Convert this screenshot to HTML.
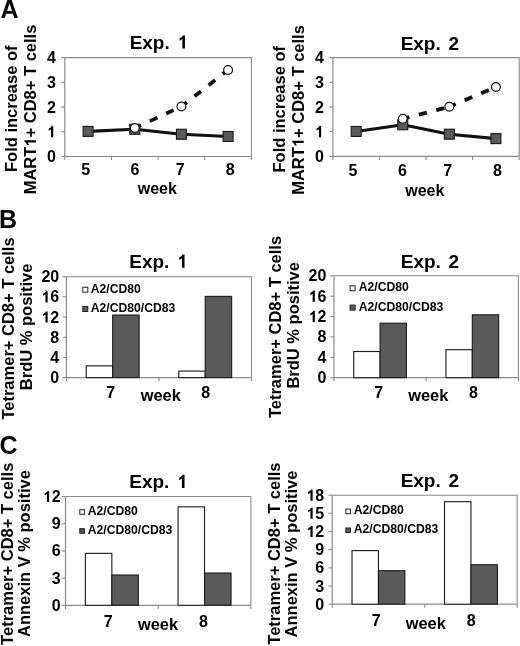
<!DOCTYPE html>
<html><head><meta charset="utf-8"><style>
html,body{margin:0;padding:0;background:#fff;}
svg{display:block;will-change:transform;filter:blur(0.3px);}
text{font-family:"Liberation Sans", sans-serif;font-weight:bold;fill:#000;}
</style></head><body>
<svg width="520" height="646" viewBox="0 0 520 646">
<rect width="520" height="646" fill="#fff"/>
<text x="0.6" y="17.9" font-size="25">A</text>
<text x="-0.9" y="227.5" font-size="25">B</text>
<text x="-0.4" y="454.3" font-size="25">C</text>
<path d="M64.80,57.60H251.40V156.50" fill="none" stroke="#8a8a8a" stroke-width="1.1"/>
<path d="M64.80,57.60V156.50H251.40" fill="none" stroke="#8a8a8a" stroke-width="1.2"/>
<path d="M61.00,156.50H64.80" stroke="#8a8a8a" stroke-width="1.1"/>
<path d="M61.00,131.78H64.80" stroke="#8a8a8a" stroke-width="1.1"/>
<path d="M61.00,107.05H64.80" stroke="#8a8a8a" stroke-width="1.1"/>
<path d="M61.00,82.32H64.80" stroke="#8a8a8a" stroke-width="1.1"/>
<path d="M61.00,57.60H64.80" stroke="#8a8a8a" stroke-width="1.1"/>
<path d="M64.80,156.50V160.10" stroke="#8a8a8a" stroke-width="1.1"/>
<path d="M111.45,156.50V160.10" stroke="#8a8a8a" stroke-width="1.1"/>
<path d="M158.10,156.50V160.10" stroke="#8a8a8a" stroke-width="1.1"/>
<path d="M204.75,156.50V160.10" stroke="#8a8a8a" stroke-width="1.1"/>
<path d="M251.40,156.50V160.10" stroke="#8a8a8a" stroke-width="1.1"/>
<text x="55.90" y="162.00" font-size="16" text-anchor="end">0</text>
<text x="55.90" y="137.28" font-size="16" text-anchor="end">1</text>
<text x="55.90" y="112.55" font-size="16" text-anchor="end">2</text>
<text x="55.90" y="87.82" font-size="16" text-anchor="end">3</text>
<text x="55.90" y="63.10" font-size="16" text-anchor="end">4</text>
<text x="85.60" y="175.00" font-size="16" text-anchor="middle">5</text>
<text x="134.90" y="175.00" font-size="16" text-anchor="middle">6</text>
<text x="180.30" y="175.00" font-size="16" text-anchor="middle">7</text>
<text x="230.10" y="175.00" font-size="16" text-anchor="middle">8</text>
<text x="157.30" y="194.20" font-size="16" text-anchor="middle">week</text>
<text x="129.63" y="48.60" font-size="19" word-spacing="2.5">Exp. 1</text>
<polyline points="88.12,131.40 134.78,129.30 181.43,134.25 228.08,136.47" fill="none" stroke="#111" stroke-width="3.1" stroke-linejoin="round"/>
<line x1="134.78" y1="128.07" x2="181.43" y2="106.56" stroke="#111" stroke-width="3.8" stroke-dasharray="8.3 9.7" stroke-dashoffset="1.4"/>
<line x1="181.43" y1="106.56" x2="228.08" y2="69.96" stroke="#111" stroke-width="3.8" stroke-dasharray="8.3 9.7" stroke-dashoffset="1.4"/>
<rect x="83.12" y="126.40" width="10" height="10" fill="#5a5a5a" stroke="#1a1a1a" stroke-width="1.1"/>
<rect x="129.78" y="124.30" width="10" height="10" fill="#5a5a5a" stroke="#1a1a1a" stroke-width="1.1"/>
<rect x="176.43" y="129.25" width="10" height="10" fill="#5a5a5a" stroke="#1a1a1a" stroke-width="1.1"/>
<rect x="223.08" y="131.47" width="10" height="10" fill="#5a5a5a" stroke="#1a1a1a" stroke-width="1.1"/>
<circle cx="134.78" cy="128.07" r="4.4" fill="#fff" stroke="#111" stroke-width="1.2"/>
<circle cx="181.43" cy="106.56" r="4.4" fill="#fff" stroke="#111" stroke-width="1.2"/>
<circle cx="228.08" cy="69.96" r="4.4" fill="#fff" stroke="#111" stroke-width="1.2"/>
<text x="0" y="0" font-size="16.5" text-anchor="middle" transform="translate(16.70,108.75) rotate(-90)">Fold increase of</text>
<text x="0" y="0" font-size="16.5" text-anchor="middle" transform="translate(35.90,109.50) rotate(-90)">MART1+ CD8+ T cells</text>
<path d="M332.90,57.60H519.20V156.40" fill="none" stroke="#8a8a8a" stroke-width="1.1"/>
<path d="M332.90,57.60V156.40H519.20" fill="none" stroke="#8a8a8a" stroke-width="1.2"/>
<path d="M329.10,156.40H332.90" stroke="#8a8a8a" stroke-width="1.1"/>
<path d="M329.10,131.70H332.90" stroke="#8a8a8a" stroke-width="1.1"/>
<path d="M329.10,107.00H332.90" stroke="#8a8a8a" stroke-width="1.1"/>
<path d="M329.10,82.30H332.90" stroke="#8a8a8a" stroke-width="1.1"/>
<path d="M329.10,57.60H332.90" stroke="#8a8a8a" stroke-width="1.1"/>
<path d="M332.90,156.40V160.00" stroke="#8a8a8a" stroke-width="1.1"/>
<path d="M379.48,156.40V160.00" stroke="#8a8a8a" stroke-width="1.1"/>
<path d="M426.05,156.40V160.00" stroke="#8a8a8a" stroke-width="1.1"/>
<path d="M472.62,156.40V160.00" stroke="#8a8a8a" stroke-width="1.1"/>
<path d="M519.20,156.40V160.00" stroke="#8a8a8a" stroke-width="1.1"/>
<text x="323.80" y="161.90" font-size="16" text-anchor="end">0</text>
<text x="323.80" y="137.20" font-size="16" text-anchor="end">1</text>
<text x="323.80" y="112.50" font-size="16" text-anchor="end">2</text>
<text x="323.80" y="87.80" font-size="16" text-anchor="end">3</text>
<text x="323.80" y="63.10" font-size="16" text-anchor="end">4</text>
<text x="353.00" y="175.50" font-size="16" text-anchor="middle">5</text>
<text x="402.50" y="175.50" font-size="16" text-anchor="middle">6</text>
<text x="447.80" y="175.50" font-size="16" text-anchor="middle">7</text>
<text x="497.50" y="175.50" font-size="16" text-anchor="middle">8</text>
<text x="424.80" y="195.50" font-size="16" text-anchor="middle">week</text>
<text x="400.63" y="50.30" font-size="19" word-spacing="2.5">Exp. 2</text>
<polyline points="356.19,131.45 402.76,124.78 449.34,134.17 495.91,138.62" fill="none" stroke="#111" stroke-width="3.1" stroke-linejoin="round"/>
<line x1="402.76" y1="118.86" x2="449.34" y2="106.75" stroke="#111" stroke-width="3.8" stroke-dasharray="8.3 9.7" stroke-dashoffset="1.4"/>
<line x1="449.34" y1="106.75" x2="495.91" y2="86.99" stroke="#111" stroke-width="3.8" stroke-dasharray="8.3 9.7" stroke-dashoffset="1.4"/>
<rect x="351.19" y="126.45" width="10" height="10" fill="#5a5a5a" stroke="#1a1a1a" stroke-width="1.1"/>
<rect x="397.76" y="119.78" width="10" height="10" fill="#5a5a5a" stroke="#1a1a1a" stroke-width="1.1"/>
<rect x="444.34" y="129.17" width="10" height="10" fill="#5a5a5a" stroke="#1a1a1a" stroke-width="1.1"/>
<rect x="490.91" y="133.62" width="10" height="10" fill="#5a5a5a" stroke="#1a1a1a" stroke-width="1.1"/>
<circle cx="402.76" cy="118.86" r="4.4" fill="#fff" stroke="#111" stroke-width="1.2"/>
<circle cx="449.34" cy="106.75" r="4.4" fill="#fff" stroke="#111" stroke-width="1.2"/>
<circle cx="495.91" cy="86.99" r="4.4" fill="#fff" stroke="#111" stroke-width="1.2"/>
<text x="0" y="0" font-size="16.5" text-anchor="middle" transform="translate(285.00,109.25) rotate(-90)">Fold increase of</text>
<text x="0" y="0" font-size="16.5" text-anchor="middle" transform="translate(303.70,110.00) rotate(-90)">MART1+ CD8+ T cells</text>
<path d="M66.40,276.70H251.50V377.60" fill="none" stroke="#8a8a8a" stroke-width="1.1"/>
<path d="M66.40,276.70V377.60H251.50" fill="none" stroke="#8a8a8a" stroke-width="1.2"/>
<path d="M62.60,377.60H66.40" stroke="#8a8a8a" stroke-width="1.1"/>
<path d="M62.60,357.42H66.40" stroke="#8a8a8a" stroke-width="1.1"/>
<path d="M62.60,337.24H66.40" stroke="#8a8a8a" stroke-width="1.1"/>
<path d="M62.60,317.06H66.40" stroke="#8a8a8a" stroke-width="1.1"/>
<path d="M62.60,296.88H66.40" stroke="#8a8a8a" stroke-width="1.1"/>
<path d="M62.60,276.70H66.40" stroke="#8a8a8a" stroke-width="1.1"/>
<path d="M66.40,377.60V381.20" stroke="#8a8a8a" stroke-width="1.1"/>
<path d="M158.95,377.60V381.20" stroke="#8a8a8a" stroke-width="1.1"/>
<path d="M251.50,377.60V381.20" stroke="#8a8a8a" stroke-width="1.1"/>
<text x="59.20" y="383.10" font-size="16" text-anchor="end">0</text>
<text x="59.20" y="362.92" font-size="16" text-anchor="end">4</text>
<text x="59.20" y="342.74" font-size="16" text-anchor="end">8</text>
<text x="59.20" y="322.56" font-size="16" text-anchor="end">12</text>
<text x="59.20" y="302.38" font-size="16" text-anchor="end">16</text>
<text x="59.20" y="282.20" font-size="16" text-anchor="end">20</text>
<rect x="86.23" y="365.85" width="26.44" height="11.75" fill="#fff" stroke="#1a1a1a" stroke-width="1.1"/>
<rect x="112.68" y="315.04" width="26.44" height="62.56" fill="#5a5a5a" stroke="#1a1a1a" stroke-width="1.1"/>
<rect x="178.78" y="371.09" width="26.44" height="6.51" fill="#fff" stroke="#1a1a1a" stroke-width="1.1"/>
<rect x="205.22" y="296.38" width="26.44" height="81.22" fill="#5a5a5a" stroke="#1a1a1a" stroke-width="1.1"/>
<text x="110.70" y="398.20" font-size="16" text-anchor="middle">7</text>
<text x="205.70" y="398.20" font-size="16" text-anchor="middle">8</text>
<text x="160.80" y="401.40" font-size="16.4" text-anchor="middle">week</text>
<text x="129.23" y="267.70" font-size="19" word-spacing="2.5">Exp. 1</text>
<rect x="82.80" y="287.20" width="5.00" height="5.00" fill="#fff" stroke="#222" stroke-width="1"/>
<text x="90.70" y="292.70" font-size="12.2" text-anchor="start">A2/CD80</text>
<rect x="82.80" y="306.50" width="5.00" height="5.00" fill="#5a5a5a" stroke="#222" stroke-width="1"/>
<text x="90.70" y="312.00" font-size="12.2" text-anchor="start">A2/CD80/CD83</text>
<text x="0" y="0" font-size="16.5" text-anchor="middle" transform="translate(14.20,328.50) rotate(-90)">Tetramer+ CD8+ T cells</text>
<text x="0" y="0" font-size="16.5" text-anchor="middle" transform="translate(31.80,326.90) rotate(-90)">BrdU % positive</text>
<path d="M334.00,275.80H518.40V377.70" fill="none" stroke="#8a8a8a" stroke-width="1.1"/>
<path d="M334.00,275.80V377.70H518.40" fill="none" stroke="#8a8a8a" stroke-width="1.2"/>
<path d="M330.20,377.70H334.00" stroke="#8a8a8a" stroke-width="1.1"/>
<path d="M330.20,357.32H334.00" stroke="#8a8a8a" stroke-width="1.1"/>
<path d="M330.20,336.94H334.00" stroke="#8a8a8a" stroke-width="1.1"/>
<path d="M330.20,316.56H334.00" stroke="#8a8a8a" stroke-width="1.1"/>
<path d="M330.20,296.18H334.00" stroke="#8a8a8a" stroke-width="1.1"/>
<path d="M330.20,275.80H334.00" stroke="#8a8a8a" stroke-width="1.1"/>
<path d="M334.00,377.70V381.30" stroke="#8a8a8a" stroke-width="1.1"/>
<path d="M426.20,377.70V381.30" stroke="#8a8a8a" stroke-width="1.1"/>
<path d="M518.40,377.70V381.30" stroke="#8a8a8a" stroke-width="1.1"/>
<text x="326.40" y="383.20" font-size="16" text-anchor="end">0</text>
<text x="326.40" y="362.82" font-size="16" text-anchor="end">4</text>
<text x="326.40" y="342.44" font-size="16" text-anchor="end">8</text>
<text x="326.40" y="322.06" font-size="16" text-anchor="end">12</text>
<text x="326.40" y="301.68" font-size="16" text-anchor="end">16</text>
<text x="326.40" y="281.30" font-size="16" text-anchor="end">20</text>
<rect x="353.76" y="351.51" width="26.34" height="26.19" fill="#fff" stroke="#1a1a1a" stroke-width="1.1"/>
<rect x="380.10" y="323.18" width="26.34" height="54.52" fill="#5a5a5a" stroke="#1a1a1a" stroke-width="1.1"/>
<rect x="445.96" y="349.68" width="26.34" height="28.02" fill="#fff" stroke="#1a1a1a" stroke-width="1.1"/>
<rect x="472.30" y="314.78" width="26.34" height="62.92" fill="#5a5a5a" stroke="#1a1a1a" stroke-width="1.1"/>
<text x="378.60" y="398.20" font-size="16" text-anchor="middle">7</text>
<text x="473.50" y="398.20" font-size="16" text-anchor="middle">8</text>
<text x="428.30" y="401.40" font-size="16.4" text-anchor="middle">week</text>
<text x="400.73" y="267.70" font-size="19" word-spacing="2.5">Exp. 2</text>
<rect x="350.10" y="285.80" width="5.00" height="5.00" fill="#fff" stroke="#222" stroke-width="1"/>
<text x="358.70" y="291.30" font-size="12.2" text-anchor="start">A2/CD80</text>
<rect x="350.10" y="305.10" width="5.00" height="5.00" fill="#5a5a5a" stroke="#222" stroke-width="1"/>
<text x="358.70" y="310.60" font-size="12.2" text-anchor="start">A2/CD80/CD83</text>
<text x="0" y="0" font-size="16.5" text-anchor="middle" transform="translate(280.80,327.00) rotate(-90)">Tetramer+ CD8+ T cells</text>
<text x="0" y="0" font-size="16.5" text-anchor="middle" transform="translate(298.70,325.30) rotate(-90)">BrdU % positive</text>
<path d="M65.50,496.50H250.90V605.30" fill="none" stroke="#8a8a8a" stroke-width="1.1"/>
<path d="M65.50,496.50V605.30H250.90" fill="none" stroke="#8a8a8a" stroke-width="1.2"/>
<path d="M61.70,605.30H65.50" stroke="#8a8a8a" stroke-width="1.1"/>
<path d="M61.70,578.10H65.50" stroke="#8a8a8a" stroke-width="1.1"/>
<path d="M61.70,550.90H65.50" stroke="#8a8a8a" stroke-width="1.1"/>
<path d="M61.70,523.70H65.50" stroke="#8a8a8a" stroke-width="1.1"/>
<path d="M61.70,496.50H65.50" stroke="#8a8a8a" stroke-width="1.1"/>
<path d="M65.50,605.30V608.90" stroke="#8a8a8a" stroke-width="1.1"/>
<path d="M158.20,605.30V608.90" stroke="#8a8a8a" stroke-width="1.1"/>
<path d="M250.90,605.30V608.90" stroke="#8a8a8a" stroke-width="1.1"/>
<text x="60.70" y="610.80" font-size="16" text-anchor="end">0</text>
<text x="60.70" y="583.60" font-size="16" text-anchor="end">3</text>
<text x="60.70" y="556.40" font-size="16" text-anchor="end">6</text>
<text x="60.70" y="529.20" font-size="16" text-anchor="end">9</text>
<text x="60.70" y="502.00" font-size="16" text-anchor="end">12</text>
<rect x="85.36" y="553.35" width="26.49" height="51.95" fill="#fff" stroke="#1a1a1a" stroke-width="1.1"/>
<rect x="111.85" y="575.02" width="26.49" height="30.28" fill="#5a5a5a" stroke="#1a1a1a" stroke-width="1.1"/>
<rect x="178.06" y="506.84" width="26.49" height="98.46" fill="#fff" stroke="#1a1a1a" stroke-width="1.1"/>
<rect x="204.55" y="573.02" width="26.49" height="32.28" fill="#5a5a5a" stroke="#1a1a1a" stroke-width="1.1"/>
<text x="108.30" y="626.50" font-size="16" text-anchor="middle">7</text>
<text x="203.40" y="626.50" font-size="16" text-anchor="middle">8</text>
<text x="158.00" y="629.50" font-size="16.4" text-anchor="middle">week</text>
<text x="129.23" y="488.00" font-size="19" word-spacing="2.5">Exp. 1</text>
<rect x="79.80" y="509.70" width="4.60" height="4.60" fill="#fff" stroke="#222" stroke-width="1"/>
<text x="87.70" y="514.80" font-size="12.2" text-anchor="start">A2/CD80</text>
<rect x="79.80" y="528.70" width="4.60" height="4.60" fill="#5a5a5a" stroke="#222" stroke-width="1"/>
<text x="87.70" y="533.80" font-size="12.2" text-anchor="start">A2/CD80/CD83</text>
<text x="0" y="0" font-size="16.5" text-anchor="middle" transform="translate(12.80,553.80) rotate(-90)">Tetramer+ CD8+ T cells</text>
<text x="0" y="0" font-size="16.5" text-anchor="middle" transform="translate(29.70,553.60) rotate(-90)">Annexin V % positive</text>
<path d="M332.20,495.20H517.20V604.20" fill="none" stroke="#8a8a8a" stroke-width="1.1"/>
<path d="M332.20,495.20V604.20H517.20" fill="none" stroke="#8a8a8a" stroke-width="1.2"/>
<path d="M328.40,604.20H332.20" stroke="#8a8a8a" stroke-width="1.1"/>
<path d="M328.40,586.03H332.20" stroke="#8a8a8a" stroke-width="1.1"/>
<path d="M328.40,567.87H332.20" stroke="#8a8a8a" stroke-width="1.1"/>
<path d="M328.40,549.70H332.20" stroke="#8a8a8a" stroke-width="1.1"/>
<path d="M328.40,531.53H332.20" stroke="#8a8a8a" stroke-width="1.1"/>
<path d="M328.40,513.37H332.20" stroke="#8a8a8a" stroke-width="1.1"/>
<path d="M328.40,495.20H332.20" stroke="#8a8a8a" stroke-width="1.1"/>
<path d="M332.20,604.20V607.80" stroke="#8a8a8a" stroke-width="1.1"/>
<path d="M424.70,604.20V607.80" stroke="#8a8a8a" stroke-width="1.1"/>
<path d="M517.20,604.20V607.80" stroke="#8a8a8a" stroke-width="1.1"/>
<text x="324.20" y="609.70" font-size="16" text-anchor="end">0</text>
<text x="324.20" y="591.53" font-size="16" text-anchor="end">3</text>
<text x="324.20" y="573.37" font-size="16" text-anchor="end">6</text>
<text x="324.20" y="555.20" font-size="16" text-anchor="end">9</text>
<text x="324.20" y="537.03" font-size="16" text-anchor="end">12</text>
<text x="324.20" y="518.87" font-size="16" text-anchor="end">15</text>
<text x="324.20" y="500.70" font-size="16" text-anchor="end">18</text>
<rect x="352.02" y="550.61" width="26.43" height="53.59" fill="#fff" stroke="#1a1a1a" stroke-width="1.1"/>
<rect x="378.45" y="570.71" width="26.43" height="33.49" fill="#5a5a5a" stroke="#1a1a1a" stroke-width="1.1"/>
<rect x="444.52" y="501.68" width="26.43" height="102.52" fill="#fff" stroke="#1a1a1a" stroke-width="1.1"/>
<rect x="470.95" y="564.72" width="26.43" height="39.48" fill="#5a5a5a" stroke="#1a1a1a" stroke-width="1.1"/>
<text x="376.30" y="625.80" font-size="16" text-anchor="middle">7</text>
<text x="471.20" y="625.80" font-size="16" text-anchor="middle">8</text>
<text x="425.80" y="628.80" font-size="16.4" text-anchor="middle">week</text>
<text x="400.63" y="486.90" font-size="19" word-spacing="2.5">Exp. 2</text>
<rect x="345.80" y="509.10" width="4.60" height="4.60" fill="#fff" stroke="#222" stroke-width="1"/>
<text x="353.70" y="514.20" font-size="12.2" text-anchor="start">A2/CD80</text>
<rect x="345.80" y="528.00" width="4.60" height="4.60" fill="#5a5a5a" stroke="#222" stroke-width="1"/>
<text x="353.70" y="533.10" font-size="12.2" text-anchor="start">A2/CD80/CD83</text>
<text x="0" y="0" font-size="16.5" text-anchor="middle" transform="translate(279.60,553.60) rotate(-90)">Tetramer+ CD8+ T cells</text>
<text x="0" y="0" font-size="16.5" text-anchor="middle" transform="translate(297.20,554.00) rotate(-90)">Annexin V % positive</text>
<g><rect x="47.20" y="125.27" width="9.05" height="12.81" fill="#fff"/><path transform="translate(46.99,137.28) scale(0.007812,-0.007812)" d="M800 0H520V1030C430 948 320 886 215 850V1098C370 1150 520 1270 600 1420H800Z" fill="#000"/></g>
<g><rect x="177.92" y="34.53" width="10.44" height="14.87" fill="#fff"/><path transform="translate(177.52,48.60) scale(0.009277,-0.009277)" d="M800 0H520V1030C430 948 320 886 215 850V1098C370 1150 520 1270 600 1420H800Z" fill="#000"/></g>
<g transform="translate(35.90,109.50) rotate(-90)"><rect x="-36.94" y="-12.35" width="9.28" height="13.15" fill="#fff"/><path transform="translate(-37.18,0.00) scale(0.008057,-0.008057)" d="M800 0H520V1030C430 948 320 886 215 850V1098C370 1150 520 1270 600 1420H800Z" fill="#000"/></g>
<g><rect x="315.10" y="125.19" width="9.05" height="12.81" fill="#fff"/><path transform="translate(314.89,137.20) scale(0.007812,-0.007812)" d="M800 0H520V1030C430 948 320 886 215 850V1098C370 1150 520 1270 600 1420H800Z" fill="#000"/></g>
<g transform="translate(303.70,110.00) rotate(-90)"><rect x="-36.94" y="-12.35" width="9.28" height="13.15" fill="#fff"/><path transform="translate(-37.18,0.00) scale(0.008057,-0.008057)" d="M800 0H520V1030C430 948 320 886 215 850V1098C370 1150 520 1270 600 1420H800Z" fill="#000"/></g>
<g><rect x="41.61" y="310.55" width="9.05" height="12.81" fill="#fff"/><path transform="translate(41.40,322.56) scale(0.007812,-0.007812)" d="M800 0H520V1030C430 948 320 886 215 850V1098C370 1150 520 1270 600 1420H800Z" fill="#000"/></g>
<g><rect x="41.61" y="290.37" width="9.05" height="12.81" fill="#fff"/><path transform="translate(41.40,302.38) scale(0.007812,-0.007812)" d="M800 0H520V1030C430 948 320 886 215 850V1098C370 1150 520 1270 600 1420H800Z" fill="#000"/></g>
<g><rect x="177.52" y="253.63" width="10.44" height="14.87" fill="#fff"/><path transform="translate(177.12,267.70) scale(0.009277,-0.009277)" d="M800 0H520V1030C430 948 320 886 215 850V1098C370 1150 520 1270 600 1420H800Z" fill="#000"/></g>
<g><rect x="308.81" y="310.05" width="9.05" height="12.81" fill="#fff"/><path transform="translate(308.60,322.06) scale(0.007812,-0.007812)" d="M800 0H520V1030C430 948 320 886 215 850V1098C370 1150 520 1270 600 1420H800Z" fill="#000"/></g>
<g><rect x="308.81" y="289.67" width="9.05" height="12.81" fill="#fff"/><path transform="translate(308.60,301.68) scale(0.007812,-0.007812)" d="M800 0H520V1030C430 948 320 886 215 850V1098C370 1150 520 1270 600 1420H800Z" fill="#000"/></g>
<g><rect x="43.11" y="489.99" width="9.05" height="12.81" fill="#fff"/><path transform="translate(42.90,502.00) scale(0.007812,-0.007812)" d="M800 0H520V1030C430 948 320 886 215 850V1098C370 1150 520 1270 600 1420H800Z" fill="#000"/></g>
<g><rect x="177.52" y="473.93" width="10.44" height="14.87" fill="#fff"/><path transform="translate(177.12,488.00) scale(0.009277,-0.009277)" d="M800 0H520V1030C430 948 320 886 215 850V1098C370 1150 520 1270 600 1420H800Z" fill="#000"/></g>
<g><rect x="306.61" y="525.02" width="9.05" height="12.81" fill="#fff"/><path transform="translate(306.40,537.03) scale(0.007812,-0.007812)" d="M800 0H520V1030C430 948 320 886 215 850V1098C370 1150 520 1270 600 1420H800Z" fill="#000"/></g>
<g><rect x="306.61" y="506.86" width="9.05" height="12.81" fill="#fff"/><path transform="translate(306.40,518.87) scale(0.007812,-0.007812)" d="M800 0H520V1030C430 948 320 886 215 850V1098C370 1150 520 1270 600 1420H800Z" fill="#000"/></g>
<g><rect x="306.61" y="488.69" width="9.05" height="12.81" fill="#fff"/><path transform="translate(306.40,500.70) scale(0.007812,-0.007812)" d="M800 0H520V1030C430 948 320 886 215 850V1098C370 1150 520 1270 600 1420H800Z" fill="#000"/></g>
</svg>
</body></html>
